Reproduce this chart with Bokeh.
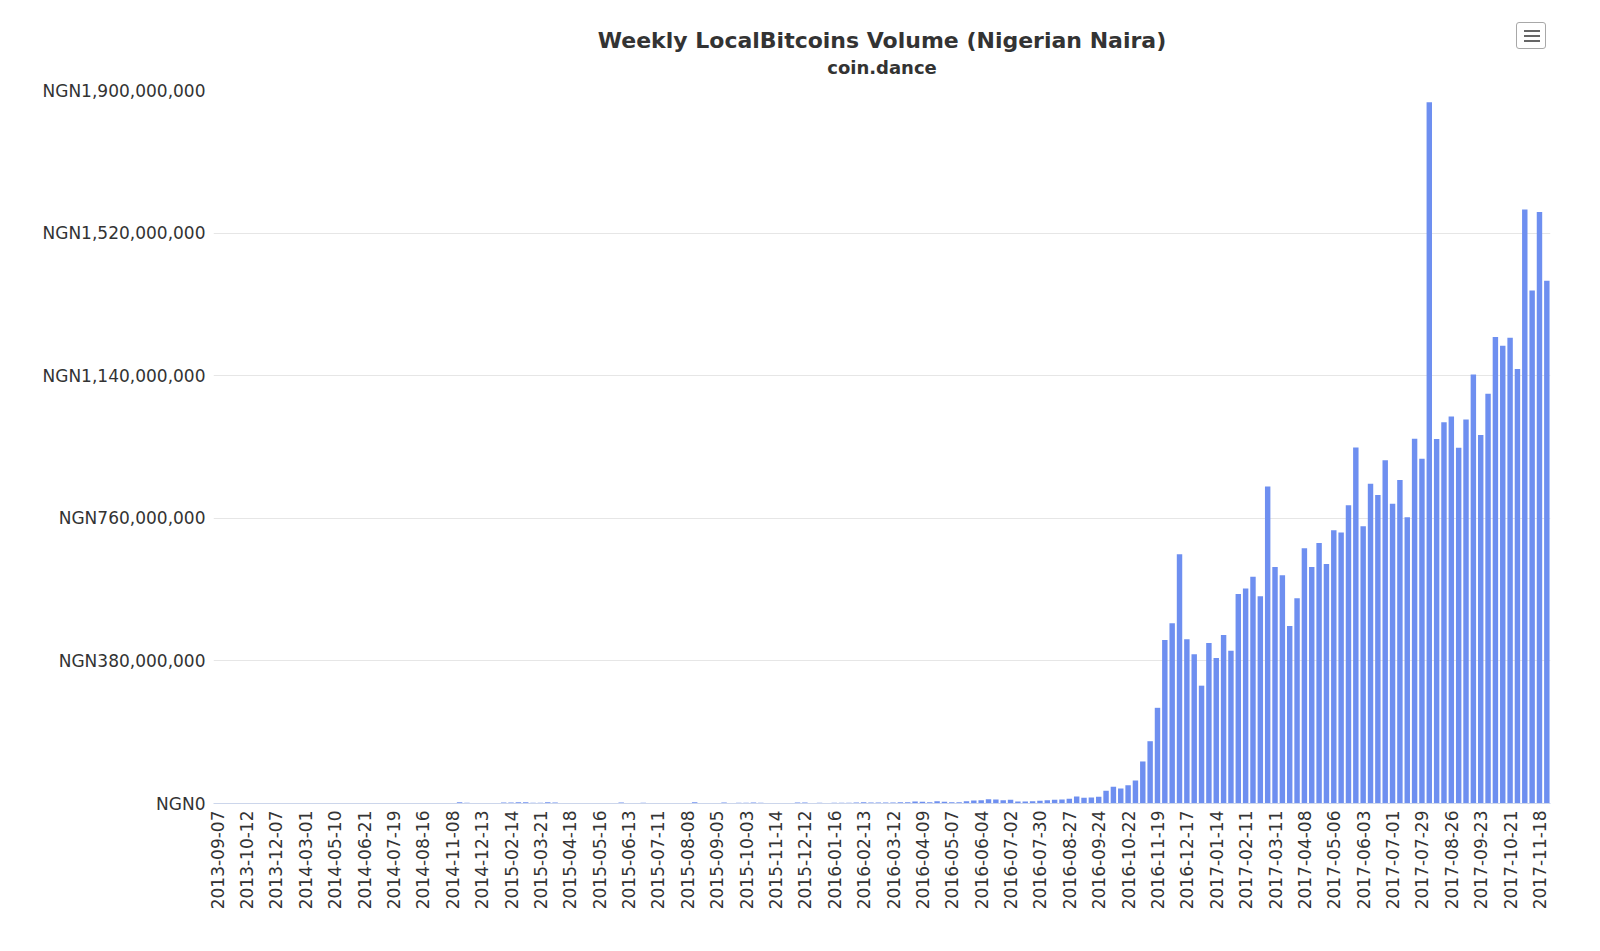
import math
import pandas as pd
from bokeh.plotting import figure
from bokeh.models import Range1d, FixedTicker, Title, ColumnDataSource
from bokeh.models.dom import Div as DomDiv
from bokeh.embed import file_html
from bokeh.resources import INLINE

# ---- data -------------------------------------------------------------
tick_labels = [
    "2013-09-07", "2013-10-12", "2013-12-07", "2014-03-01", "2014-05-10", "2014-06-21",
    "2014-07-19", "2014-08-16", "2014-11-08", "2014-12-13", "2015-02-14", "2015-03-21",
    "2015-04-18", "2015-05-16", "2015-06-13", "2015-07-11", "2015-08-08", "2015-09-05",
    "2015-10-03", "2015-11-14", "2015-12-12", "2016-01-16", "2016-02-13", "2016-03-12",
    "2016-04-09", "2016-05-07", "2016-06-04", "2016-07-02", "2016-07-30", "2016-08-27",
    "2016-09-24", "2016-10-22", "2016-11-19", "2016-12-17", "2017-01-14", "2017-02-11",
    "2017-03-11", "2017-04-08", "2017-05-06", "2017-06-03", "2017-07-01", "2017-07-29",
    "2017-08-26", "2017-09-23", "2017-10-21", "2017-11-18",
]

# weekly volume, millions of NGN
volume_m = [
    0.2, 0.3, 0.1, 0.2, 0.2, 0.3, 0.2, 0.1, 0.2, 0.3, 0.2, 0.2, 0.1, 0.3, 0.2, 0.4,
    0.9, 0.9, 0.3, 0.4, 0.9, 0.9, 0.3, 0.2, 0.3, 0.2, 0.3, 0.2, 0.3, 0.4, 0.3, 0.5,
    0.9, 3.6, 1.8, 0.5, 0.4, 0.9, 0.5, 2.7, 2.7, 3.6, 3.6, 1.8, 1.8, 3.6, 2.7, 0.6,
    0.4, 0.3, 0.4, 0.5, 0.9, 0.6, 0.9, 2.7, 0.7, 0.9, 1.8, 0.9, 0.9, 0.5, 0.9, 0.9,
    0.5, 3.6, 0.5, 0.9, 0.6, 2.7, 0.5, 1.8, 1.8, 2.7, 1.8, 0.4, 0.3, 0.4, 0.5, 2.7,
    2.7, 0.6, 1.8, 0.7, 1.8, 1.8, 1.8, 2.7, 3.6, 2.7, 2.7, 2.7, 2.7, 3.6, 3.6, 5.3,
    4.4, 3.6, 6.2, 4.4, 3.6, 3.6, 6.2, 8.0, 8.9, 11.5, 10.7, 8.9, 9.8, 5.3, 5.3, 6.2,
    7.1, 8.9, 9.8, 10.7, 12.4, 18.7, 15.1, 16.0, 18.0, 33.8, 44.4, 40.0, 48.9, 61.3,
    112, 166, 255, 436, 480, 664, 438, 398, 314, 428, 388, 449, 407, 558, 573, 604,
    552, 845, 630, 608, 473, 547, 680, 630, 694, 638, 728, 722, 795, 949, 739, 852,
    822, 915, 799, 862, 763, 972, 919, 1869, 971, 1016, 1031, 948, 1023, 1143, 982, 1092,
    1243, 1220, 1241, 1158, 1583, 1367, 1576, 1393,
]

y_ticks = [0, 380000000, 760000000, 1140000000, 1520000000, 1900000000]

# categories: each labelled week followed by the next three weeks
weeks = []
for t in tick_labels:
    d = pd.Timestamp(t)
    for k in range(4):
        weeks.append((d + pd.Timedelta(weeks=k)).strftime("%Y-%m-%d"))
weeks = weeks[:len(volume_m)]

src = ColumnDataSource(dict(
    x=list(range(len(weeks))),
    week=weeks,
    top=[v * 1e6 for v in volume_m],
))

FONT = "DejaVu Sans"

p = figure(
    width=1592, height=943,
    x_range=Range1d(-0.5, len(weeks) - 0.5),
    y_range=Range1d(0, y_ticks[-1]),
    output_backend="svg", toolbar_location=None,
    min_border_left=213, min_border_right=42, min_border_top=90, min_border_bottom=140,
    outline_line_color=None,
    title="Weekly LocalBitcoins Volume (Nigerian Naira)",
)
p.title.align = "center"
p.title.text_font = FONT
p.title.text_font_size = "22px"
p.title.text_font_style = "bold"
p.title.text_color = "#333333"
p.title.standoff = 2

# spacer row between subtitle and plot frame
spacer = Title(text=" ", text_font_size="1px", standoff=9)
p.add_layout(spacer, "above")
sub = Title(text="coin.dance", align="center", text_font=FONT, text_font_size="18px",
            text_font_style="bold", text_color="#333333", standoff=2)
p.add_layout(sub, "above")

p.vbar(x="x", top="top", width=0.74, source=src, fill_color="#6e8ff0", line_color=None)

# x axis
xa = p.xaxis[0]
xa.ticker = FixedTicker(ticks=list(range(0, len(weeks), 4)))
xa.major_label_overrides = {i: weeks[i] for i in range(0, len(weeks), 4)}
xa.major_label_orientation = math.pi / 2
xa.major_tick_line_color = None
xa.major_tick_out = 0
xa.major_tick_in = 0
xa.minor_tick_line_color = None
xa.axis_line_color = "#ccd6eb"
xa.major_label_standoff = 7
xa.major_label_text_font = FONT
xa.major_label_text_font_size = "17px"
xa.major_label_text_color = "#333333"

# y axis
ya = p.yaxis[0]
ya.ticker = FixedTicker(ticks=y_ticks)
ya.major_label_overrides = {v: "NGN" + f"{v:,}" for v in y_ticks}
ya.major_tick_line_color = None
ya.major_tick_out = 0
ya.major_tick_in = 0
ya.minor_tick_line_color = None
ya.axis_line_color = None
ya.major_label_standoff = 8
ya.major_label_text_font = FONT
ya.major_label_text_font_size = "17px"
ya.major_label_text_color = "#333333"

p.xgrid.visible = False
p.ygrid.grid_line_color = "#e6e6e6"
p.ygrid.grid_line_width = 1


# export-menu icon in the top right corner (pure DOM, no text)
def _bar(top):
    return DomDiv(style={"position": "absolute", "left": "7px", "top": f"{top}px",
                         "width": "16px", "height": "2px", "background-color": "#666666"})


menu_icon = DomDiv(
    style={"position": "absolute", "left": "1516px", "top": "22px",
           "width": "30px", "height": "27px", "border": "1px solid #a8a8a8",
           "border-radius": "3px", "background-color": "white"},
    children=[_bar(7), _bar(12), _bar(17)],
)
p.elements = [menu_icon]

open("out.html", "w").write(file_html(p, INLINE))
